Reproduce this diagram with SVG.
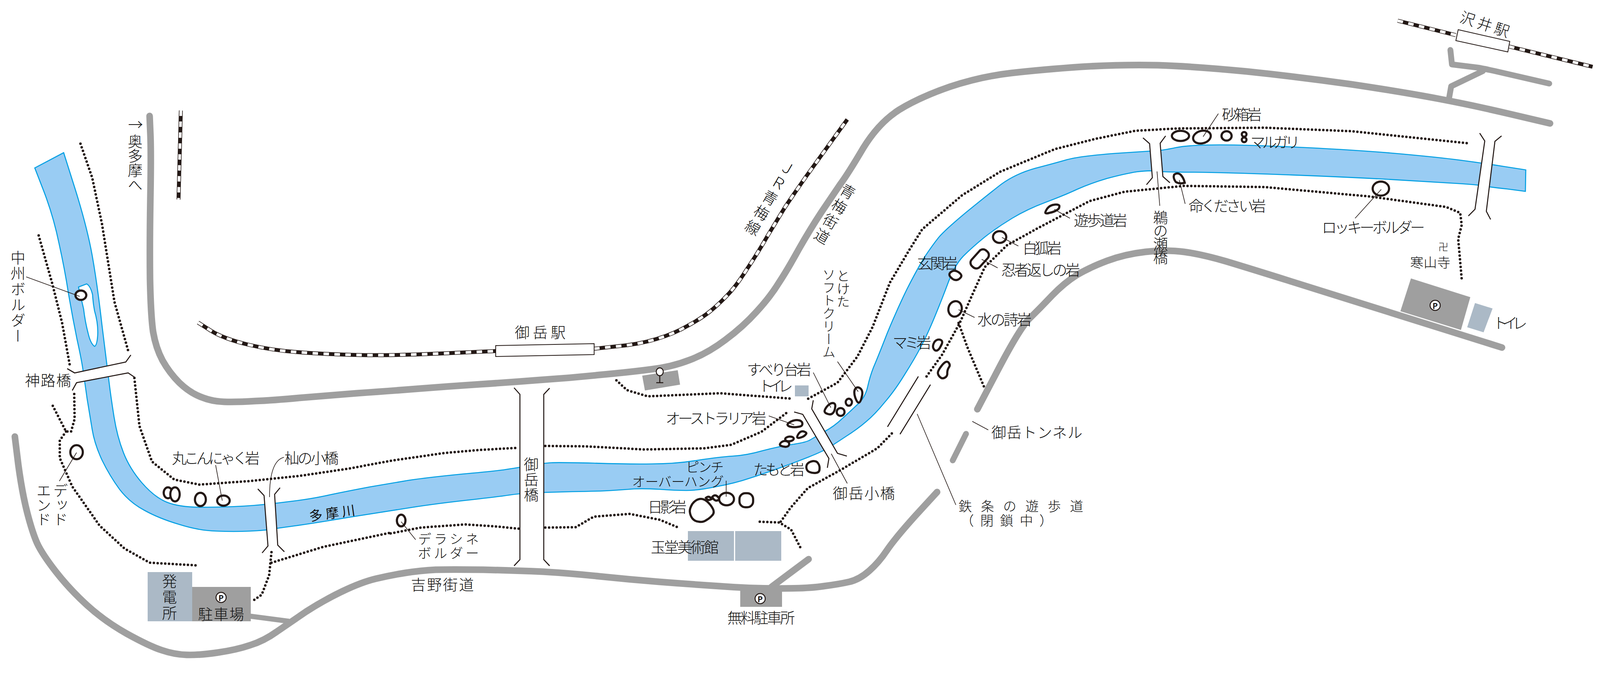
<svg xmlns="http://www.w3.org/2000/svg" width="4102" height="1726" viewBox="0 0 4102 1726">
<style>
text{font-family:"Noto Sans CJK JP","Noto Sans",sans-serif;font-weight:300;fill:#111;font-size:38px;dominant-baseline:central}
.v{writing-mode:vertical-rl}
.s{font-size:34px}
.road{fill:none;stroke:#9f9f9f;stroke-width:17;stroke-linecap:round;stroke-linejoin:round}
.rb{fill:none;stroke:#231815;stroke-width:10}
.rw{fill:none;stroke:#fff;stroke-width:7;stroke-dasharray:14 14}
.dot{fill:none;stroke:#231815;stroke-width:6.5;stroke-linecap:round;stroke-dasharray:0 9.7;stroke-linejoin:round}
.br{fill:#fff;stroke:none}
.bl{fill:none;stroke:#231815;stroke-width:2.6}
.rock{fill:#fff;stroke:#231815;stroke-width:5.5}
.lead{fill:none;stroke:#231815;stroke-width:1.6}
.bldg{fill:#abb9c6}
.park{fill:#9f9f9f}
.pc{fill:#fff;stroke:#231815;stroke-width:2.5}
.pt{font-size:20px;font-weight:700;text-anchor:middle}
</style>
<g id="river">
<path fill="#99ccf3" stroke="#009fe3" stroke-width="2.6" d="M163,391 L193,486 Q223,582 236,654 Q249,727 261,832 Q274,937 279,977 Q284,1018 292,1068 Q300,1118 316,1159 Q332,1200 363,1236 Q395,1273 427,1286 Q459,1299 516,1299 Q574,1299 625,1296 Q676,1293 736,1285 Q797,1278 845,1267 Q893,1257 946,1247 Q1000,1238 1046,1230 Q1092,1223 1183,1214 Q1275,1206 1303,1201 Q1331,1197 1362,1191 Q1394,1186 1411,1185 Q1429,1184 1520,1186 Q1612,1189 1669,1188 Q1727,1188 1784,1179 Q1842,1170 1876,1168 Q1911,1166 1953,1154 Q1995,1143 2029,1138 Q2064,1133 2075,1126 Q2087,1119 2111,1105 Q2135,1092 2155,1073 Q2176,1054 2195,1036 Q2215,1018 2221,991 Q2227,964 2236,941 Q2246,918 2271,854 Q2297,791 2322,740 Q2348,689 2367,658 Q2387,628 2403,608 Q2419,589 2473,544 Q2527,500 2563,472 Q2600,445 2650,431 Q2700,418 2731,409 Q2763,400 2852,393 Q2941,387 2959,386 Q2977,385 3010,378 Q3044,371 3122,371 Q3201,371 3344,378 Q3487,385 3585,394 Q3684,403 3737,410 Q3791,417 3848,426 L3906,435 L3905,490 L3859,484 Q3813,479 3797,476 Q3782,473 3733,470 Q3684,467 3550,459 Q3416,452 3277,447 Q3138,442 3057,441 Q2977,441 2959,438 Q2941,436 2910,440 Q2879,445 2834,457 Q2790,470 2757,485 Q2725,500 2677,518 Q2629,536 2591,559 Q2553,582 2521,607 Q2489,633 2466,656 Q2444,679 2428,722 Q2412,765 2393,811 Q2374,857 2358,887 Q2342,918 2316,959 Q2291,1000 2265,1030 Q2240,1061 2217,1080 Q2195,1099 2165,1118 Q2135,1138 2120,1147 Q2106,1156 2071,1170 Q2036,1184 1994,1199 Q1953,1214 1918,1225 Q1883,1237 1835,1246 Q1788,1256 1757,1256 Q1727,1256 1688,1253 Q1650,1251 1623,1252 Q1597,1254 1566,1256 Q1536,1258 1465,1259 Q1394,1261 1361,1262 Q1329,1264 1302,1268 Q1275,1272 1195,1281 Q1115,1290 1057,1299 Q1000,1308 898,1324 Q797,1341 752,1347 Q708,1353 695,1355 Q682,1358 640,1360 Q599,1362 554,1360 Q510,1359 459,1343 Q408,1328 370,1307 Q332,1287 306,1253 Q281,1219 261,1178 Q242,1137 236,1100 Q230,1064 223,1021 Q217,978 213,952 Q210,927 197,868 Q185,809 175,750 Q166,691 151,623 Q137,555 113,492 L89,430 Z"/>
<path fill="#fff" stroke="#009fe3" stroke-width="2.6" d="M201,735 L222,727 Q232,733 237,755 Q238,775 242,796 Q252,830 250,860 Q248,885 242,887 Q232,880 226,855 Q218,825 214,791 Z"/>
</g>
<g id="roads">
<path class="road" d="M383,297 L385,344 Q387,391 385,504 Q383,618 384,713 Q386,809 392,850 Q399,891 416,923 Q434,955 459,980 Q485,1005 513,1016 Q542,1028 574,1029 Q606,1030 653,1027 Q701,1025 765,1019 Q829,1014 914,1007 Q1000,1001 1076,995 Q1153,989 1229,984 Q1306,979 1382,973 Q1459,968 1535,960 Q1612,953 1665,946 Q1719,940 1765,922 Q1811,905 1856,871 Q1902,837 1937,798 Q1972,760 1994,724 Q2017,689 2045,638 Q2074,587 2103,543 Q2132,500 2151,472 Q2171,445 2210,379 Q2250,314 2302,281 Q2354,249 2432,222 Q2511,196 2589,187 Q2668,178 2769,171 Q2870,165 2964,167 Q3058,170 3192,183 Q3326,197 3460,216 Q3594,236 3683,253 Q3773,270 3870,293 L3968,316"/>
<path class="road" d="M38,1118 L47,1191 Q57,1264 70,1314 Q83,1364 95,1391 Q108,1419 143,1464 Q179,1510 223,1550 Q268,1591 325,1623 Q383,1655 414,1665 Q446,1676 478,1677 Q510,1678 558,1671 Q606,1664 641,1652 Q676,1641 708,1618 Q740,1596 784,1566 Q829,1537 877,1514 Q925,1491 962,1482 Q1000,1473 1038,1467 Q1077,1461 1115,1459 Q1153,1458 1237,1459 Q1321,1461 1390,1464 Q1459,1468 1535,1476 Q1612,1484 1688,1490 Q1765,1496 1841,1501 Q1918,1507 1994,1507 Q2071,1507 2109,1501 Q2148,1496 2174,1490 Q2200,1484 2225,1462 Q2250,1440 2270,1410 Q2290,1380 2344,1320 L2399,1260"/>
<path class="road" style="stroke-width:13;stroke-linecap:butt" d="M641,1578 L740,1591"/>
<path class="road" d="M1975,1503 L2070,1432"/>
<path class="road" d="M2502,1048 L2556,945 Q2610,842 2635,816 Q2661,791 2693,757 Q2725,724 2757,704 Q2789,685 2834,668 Q2879,651 2932,645 Q2986,639 3031,645 Q3076,651 3138,669 Q3201,688 3300,719 L3845,890"/>
<path class="road" style="stroke-width:15" d="M2473,1111 L2439,1179"/>
<path class="road" style="stroke-width:15" d="M3713,128 L3717,165 L3782,173 Q3800,176 3827,182 L3966,214"/>
<path class="road" style="stroke-width:15" d="M3796,182 L3715,221 L3709,255"/>
</g>
<g id="rail">
<path class="rb" d="M507,826 L540,847 Q574,868 637,883 Q701,898 765,902 Q829,907 914,909 Q1000,911 1134,905 L1269,899"/>
<path class="rw" d="M507,826 L540,847 Q574,868 637,883 Q701,898 765,902 Q829,907 914,909 Q1000,911 1134,905 L1269,899"/>
<path class="rb" d="M1521,893 L1578,887 Q1635,882 1681,868 Q1727,854 1761,834 Q1796,815 1817,798 Q1838,781 1860,758 Q1883,735 1911,691 Q1940,648 1965,604 Q1991,561 2010,530 Q2030,500 2065,450 L2169,306"/>
<path class="rw" d="M1521,893 L1578,887 Q1635,882 1681,868 Q1727,854 1761,834 Q1796,815 1817,798 Q1838,781 1860,758 Q1883,735 1911,691 Q1940,648 1965,604 Q1991,561 2010,530 Q2030,500 2065,450 L2169,306"/>
<path class="rb" d="M463,283 L457,511"/>
<path class="rw" d="M463,283 L457,511"/>
<path class="rb" d="M3578,53 L3727,90"/>
<path class="rw" d="M3578,53 L3727,90"/>
<path class="rb" d="M3863,119 L4077,171"/>
<path class="rw" d="M3863,119 L4077,171"/>
<polygon points="1269,885 1521,880 1521,908 1269,913" fill="#fff" stroke="#231815" stroke-width="2"/>
<polygon points="3733,76 3865,106 3860,133 3727,104" fill="#fff" stroke="#231815" stroke-width="2"/>
</g>
<g id="bridges">
<polygon class="br" points="191,955 322,927 328,955 196,980"/>
<path class="bl" d="M172,944 L191,955 L322,927 L335,909 M185,1000 L196,980 L328,955 L346,967"/>
<polygon class="br" points="676,1269 703,1266 711,1396 686,1398"/>
<path class="bl" d="M660,1252 L676,1269 L686,1398 L671,1416 M717,1249 L703,1266 L711,1396 L728,1413"/>
<polygon class="br" points="1331,1010 1392,1010 1392,1433 1331,1433"/>
<path class="bl" d="M1316,993 L1331,1010 L1331,1433 L1316,1449 M1407,994 L1392,1010 L1392,1433 L1407,1449"/>
<polygon class="br" points="2055,1061 2078,1047 2144,1161 2122,1174"/>
<path class="bl" d="M2033,1055 L2055,1061 L2122,1174 L2118,1198 M2082,1025 L2078,1047 L2144,1161 L2168,1168"/>
<polygon class="br" points="2943,368 2970,367 2977,452 2950,455"/>
<path class="bl" d="M2926,353 L2943,368 L2950,455 L2935,473 M2984,348 L2970,367 L2977,452 L2995,468"/>
<polygon class="br" points="3801,361 3827,362 3805,541 3776,536"/>
<path class="bl" d="M3788,341 L3801,361 L3776,536 L3759,553 M3844,348 L3827,362 L3805,541 L3816,562"/>
<path class="bl" d="M2351,964 L2272,1093 M2382,985 L2304,1112"/>
</g>
<g id="trails">
<polyline class="dot" points="206,368 236,455 261,573 293,773 330,905"/>
<polyline class="dot" points="99,603 134,727 159,827 179,937"/>
<polyline class="dot" points="190,1009 191,1073 182,1105 169,1105 134,1037"/>
<polyline class="dot" points="169,1105 153,1128 153,1173 185,1246 255,1346 319,1405 383,1441 507,1448"/>
<polyline class="dot" points="344,968 357,1091 389,1182 446,1228 510,1241 638,1232 765,1219 893,1200 1000,1180 1138,1160 1230,1152 1325,1147"/>
<polyline class="dot" points="1396,1142 1497,1143 1650,1151 1804,1148 1872,1139 1949,1106 2018,1054"/>
<polyline class="dot" points="1578,974 1605,999 1658,1015 1842,1007 2029,1021"/>
<polyline class="dot" points="2069,1021 2144,980 2195,913 2234,837 2278,724 2329,638 2361,587 2463,500 2560,440 2700,382 2807,355 2906,335 3013,329 3237,327 3460,336 3760,367"/>
<polyline class="dot" points="2372,964 2412,908 2457,827 2489,755 2521,684 2578,628 2661,582 2789,515 2879,491 3031,476 3237,479 3505,503 3702,530 3738,545 3742,576 3733,612 3742,715"/>
<polyline class="dot" points="2454,827 2476,888 2521,995"/>
<polyline class="dot" points="2283,1110 2246,1148 2151,1204 2068,1250 2024,1300 1995,1341"/>
<polyline class="dot" points="1945,1336 1995,1338 2025,1356 2051,1406"/>
<polyline class="dot" points="1000,1366 1077,1351 1191,1343 1268,1348 1329,1354"/>
<polyline class="dot" points="695,1441 829,1400 1000,1364"/>
<polyline class="dot" points="1396,1351 1474,1350 1520,1323 1612,1316 1689,1331 1741,1353"/>
<polyline class="dot" points="695,1414 689,1473 670,1523 645,1540"/>
</g>
<g id="buildings">
<rect class="bldg" x="378" y="1465" width="114" height="126"/>
<rect class="park" x="492" y="1503" width="150" height="88"/>
<rect class="bldg" x="2035" y="987" width="35" height="28"/>
<rect class="bldg" x="1761" y="1360" width="118" height="76"/>
<rect class="bldg" x="1882" y="1360" width="118" height="76"/>
<rect class="park" x="1895" y="1506" width="107" height="48"/>
<polygon class="park" points="3612,713 3764,761 3740,845 3585,797"/>
<polygon class="bldg" points="3776,776 3821,790 3798,851 3756,838"/>
<polygon class="park" points="1644,962 1735,948 1741,985 1651,1000"/>
<ellipse cx="1689" cy="952" rx="9" ry="10" fill="#fff" stroke="#231815" stroke-width="2.5"/>
<path class="bl" d="M1689,962 L1689,980 M1680,980 L1698,980"/>
<circle class="pc" cx="566" cy="1530" r="13"/><text class="pt" x="566" y="1530">P</text>
<circle class="pc" cx="1946" cy="1533" r="13"/><text class="pt" x="1946" y="1533">P</text>
<circle class="pc" cx="3674" cy="782" r="13"/><text class="pt" x="3674" y="782">P</text>
</g>
<g id="rocks">
<ellipse class="rock" cx="207" cy="756" rx="14" ry="12"/>
<ellipse class="rock" cx="196" cy="1158" rx="16" ry="18"/>
<ellipse class="rock" cx="430" cy="1262" rx="11" ry="14"/>
<ellipse class="rock" cx="448" cy="1266" rx="12" ry="18"/>
<ellipse class="rock" cx="513" cy="1279" rx="14" ry="17"/>
<ellipse class="rock" cx="572" cy="1282" rx="16" ry="13"/>
<ellipse class="rock" cx="1027" cy="1333" rx="11" ry="15"/>
<path class="rock" d="M1807,1275 Q1815,1268 1822,1278 Q1812,1284 1807,1275Z"/>
<path class="rock" d="M1823,1273 Q1832,1262 1842,1278 Q1832,1288 1823,1273Z"/>
<path class="rock" d="M1772,1291 Q1780,1280 1790,1278 Q1800,1276 1810,1284 Q1820,1293 1825,1303 Q1830,1313 1823,1320 Q1817,1327 1808,1332 Q1800,1338 1789,1336 Q1778,1335 1772,1327 Q1767,1320 1766,1311 Q1765,1303 1772,1291Z"/>
<ellipse class="rock" cx="1860" cy="1278" rx="19" ry="16"/>
<rect class="rock" x="1893" y="1263" width="35" height="36" rx="15"/>
<path class="rock" d="M2066,1189 Q2070,1183 2080,1181 Q2090,1180 2094,1186 Q2099,1193 2098,1201 Q2098,1210 2089,1211 Q2080,1212 2073,1209 Q2067,1207 2065,1201 Q2063,1195 2066,1189Z"/>
<path class="rock" d="M2024,1080 Q2033,1075 2043,1076 Q2053,1077 2054,1084 Q2055,1092 2044,1093 Q2033,1095 2025,1093 Q2018,1092 2016,1088 Q2015,1085 2024,1080Z"/>
<path class="rock" d="M2045,1110 Q2050,1103 2058,1105 Q2067,1108 2063,1112 Q2060,1117 2051,1120 Q2043,1123 2041,1120 Q2040,1117 2045,1110Z"/>
<ellipse class="rock" cx="2021" cy="1124" rx="11" ry="6" transform="rotate(-5 2021 1124)"/>
<path class="rock" d="M2001,1132 Q2007,1128 2014,1130 Q2022,1133 2020,1139 Q2018,1145 2009,1144 Q2000,1143 1997,1140 Q1995,1137 2001,1132Z"/>
<path class="rock" d="M2117,1041 Q2125,1032 2132,1032 Q2140,1033 2138,1043 Q2137,1053 2132,1058 Q2127,1063 2119,1060 Q2112,1058 2111,1054 Q2110,1050 2117,1041Z"/>
<ellipse class="rock" cx="2152" cy="1055" rx="10" ry="10"/>
<ellipse class="rock" cx="2173" cy="1030" rx="8" ry="9"/>
<path class="rock" d="M2192,993 Q2198,990 2204,996 Q2210,1003 2206,1017 Q2203,1030 2199,1031 Q2195,1032 2191,1022 Q2187,1013 2187,1005 Q2187,997 2192,993Z"/>
<path class="rock" d="M2411,936 Q2422,922 2428,928 Q2434,935 2429,941 Q2425,947 2425,955 Q2426,963 2419,967 Q2412,971 2407,966 Q2402,962 2401,956 Q2400,950 2411,936Z"/>
<path class="rock" d="M2392,876 Q2398,868 2407,870 Q2416,873 2409,885 Q2403,898 2397,898 Q2392,898 2389,891 Q2387,885 2392,876Z"/>
<ellipse class="rock" cx="2445" cy="791" rx="17" ry="20" transform="rotate(15 2445 791)"/>
<path class="rock" d="M2435,696 Q2443,690 2454,697 Q2465,705 2459,711 Q2453,718 2446,717 Q2440,717 2433,709 Q2427,702 2435,696Z"/>
<rect class="rock" x="2481" y="649" width="54" height="28" rx="12" transform="rotate(-48 2508 663)"/>
<ellipse class="rock" cx="2559" cy="607" rx="17" ry="15"/>
<path class="rock" d="M2681,534 Q2688,525 2700,524 Q2713,523 2712,529 Q2712,535 2704,539 Q2697,543 2687,545 Q2677,548 2676,545 Q2675,543 2681,534Z"/>
<ellipse class="rock" cx="3022" cy="348" rx="22" ry="13"/>
<ellipse class="rock" cx="3077" cy="351" rx="23" ry="16" transform="rotate(-15 3077 351)"/>
<ellipse class="rock" cx="3140" cy="348" rx="13" ry="12"/>
<circle class="rock" cx="3185" cy="344" r="6"/>
<circle class="rock" cx="3185" cy="358" r="6"/>
<path class="rock" d="M3006,447 Q3014,441 3022,447 Q3030,455 3033,468 Q3020,472 3010,466 Q3002,455 3006,447Z"/>
<ellipse class="rock" cx="3535" cy="483" rx="21" ry="18"/>
</g>
<g id="leaders">
<path class="lead" d="M67,709 L204,759 M152,1232 L196,1159 M552,1191 L569,1282 M727,1171 Q690,1180 690,1273 M1027,1336 L1064,1382 M1859,1231 L1859,1272 M1968,1065 L2033,1088 M2082,954 L2127,1044 M2144,926 L2197,1003 M2454,793 L2495,813 M2565,608 L2607,630 M2513,664 L2554,686 M2699,536 L2739,559 M2489,1079 L2530,1101 M2128,1162 L2169,1238 M2348,1060 L2447,1293 M2962,439 L2969,527 M3019,461 L3034,522 M3119,291 L3080,350 M3536,485 L3469,559"/>
</g>
<g id="labels">
<text x="328" y="316">→</text>
<text class="v" x="346" y="343" style="letter-spacing:-1px">奥多摩へ</text>
<text class="v" x="46" y="641" style="letter-spacing:2px">中州ボルダー</text>
<text x="64" y="971" textLength="118">神路橋</text>
<text class="v" x="155" y="1237" style="letter-spacing:-1px">デッド</text>
<text class="v" x="112" y="1237" style="letter-spacing:-1px">エンド</text>
<text x="440" y="1170" textLength="225">丸こんにゃく岩</text>
<text x="728" y="1170" textLength="139">杣の小橋</text>
<text x="791" y="1312" textLength="118" transform="rotate(-8 850 1312)" style="font-weight:400;font-size:34px">多摩川</text>
<text class="v" x="434" y="1469" style="letter-spacing:3px">発電所</text>
<text x="507" y="1570" textLength="118">駐車場</text>
<text x="1052" y="1494" textLength="161">吉野街道</text>
<text class="s" x="1070" y="1378" textLength="156">デラシネ</text>
<text class="s" x="1070" y="1414" textLength="156">ボルダー</text>
<text class="v" x="1360" y="1170" style="letter-spacing:1px">御岳橋</text>
<text x="1318" y="848" textLength="130">御岳駅</text>
<text class="v" x="2025" y="414" transform="rotate(30 2025 414)" style="letter-spacing:6px">ＪＲ青梅線</text>
<text class="v" x="2180" y="474" transform="rotate(30 2180 474)" style="letter-spacing:6px">青梅街道</text>
<text x="2538" y="1104" textLength="233">御岳トンネル</text>
<text class="v s" x="2159" y="689" style="letter-spacing:-1px">とけた</text>
<text class="v s" x="2122" y="686" style="letter-spacing:-1px">ソフトクリーム</text>
<text x="1912" y="943" textLength="165">すべり台岩</text>
<text x="1942" y="985" textLength="88">トイレ</text>
<text x="1704" y="1068" textLength="258">オーストラリア岩</text>
<text class="s" x="1756" y="1194" textLength="97">ピンチ</text>
<text class="s" x="1618" y="1231" textLength="235">オーバーハング</text>
<text x="1928" y="1199" textLength="132">たもと岩</text>
<text x="1658" y="1295" textLength="100">日影岩</text>
<text x="1666" y="1398" textLength="174">玉堂美術館</text>
<text x="1862" y="1579" textLength="173">無料駐車所</text>
<text x="2132" y="1260" textLength="159">御岳小橋</text>
<text class="s" x="2454" y="1294" textLength="319">鉄条の遊歩道</text>
<text class="s" x="2459" y="1331" textLength="236">（閉鎖中）</text>
<text x="2502" y="815" textLength="139">水の詩岩</text>
<text x="2285" y="874" textLength="99">マミ岩</text>
<text x="2348" y="671" textLength="104">玄関岩</text>
<text x="2618" y="632" textLength="100">白狐岩</text>
<text x="2563" y="688" textLength="202">忍者返しの岩</text>
<text x="2749" y="561" textLength="137">遊歩道岩</text>
<text class="v" x="2971" y="538" style="letter-spacing:-4px">鵜の瀬橋</text>
<text x="3043" y="524" textLength="198">命ください岩</text>
<text x="3128" y="290" textLength="102">砂箱岩</text>
<text x="3201" y="361" textLength="127">マルガリ</text>
<text x="3384" y="579" textLength="264">ロッキーボルダー</text>
<text x="3682" y="630" style="font-size:26px">卍</text>
<text class="s" x="3610" y="670" textLength="103">寒山寺</text>
<text x="3822" y="824" textLength="88">トイレ</text>
<text x="3737" y="60" textLength="130" transform="rotate(18 3802 60)">沢井駅</text>
</g>
</svg>
